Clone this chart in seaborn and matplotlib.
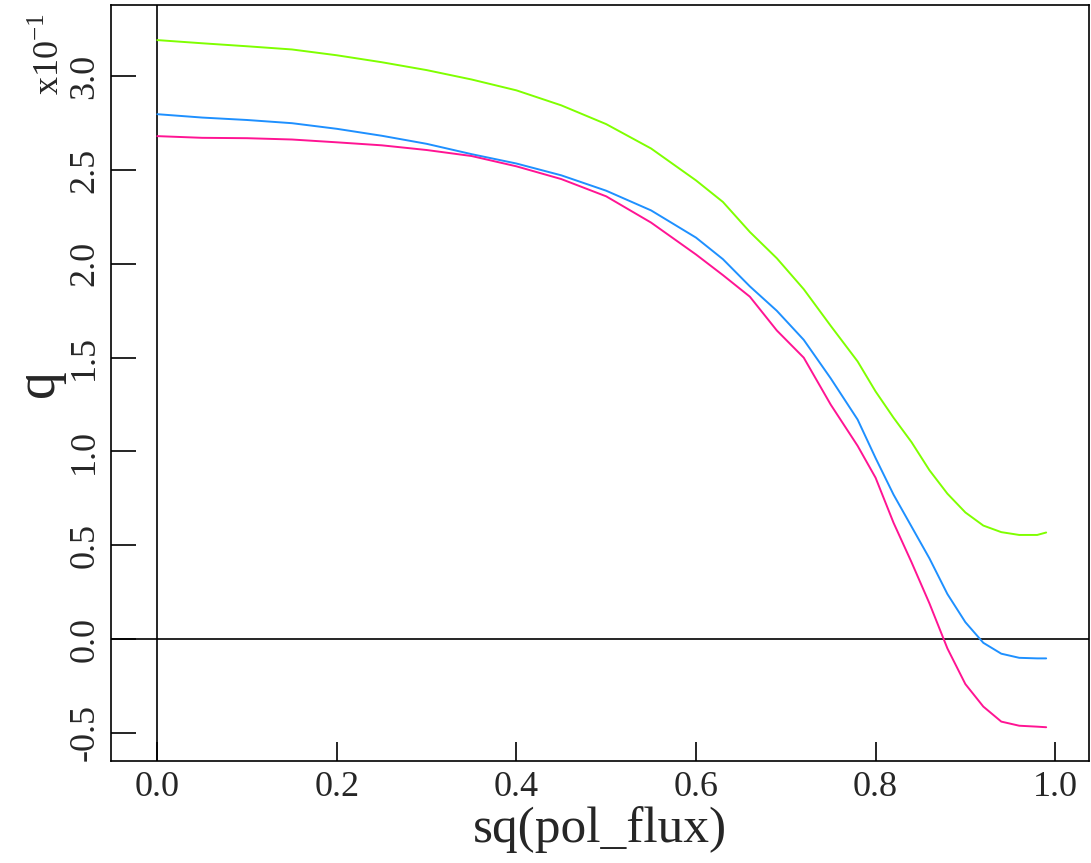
import numpy as np
import pandas as pd
import matplotlib
matplotlib.use("Agg")
import matplotlib.pyplot as plt
import seaborn as sns

x_vals = [0.00, 0.05, 0.10, 0.15, 0.20, 0.25, 0.30, 0.35, 0.40, 0.45, 0.50, 0.55,
          0.60, 0.63, 0.66, 0.69, 0.72, 0.75, 0.78, 0.80, 0.82, 0.84, 0.86, 0.88,
          0.90, 0.92, 0.94, 0.96, 0.98, 0.99]
q_green = [3.193, 3.176, 3.160, 3.143, 3.112, 3.075, 3.033, 2.983, 2.925, 2.845, 2.745, 2.615,
           2.445, 2.330, 2.170, 2.030, 1.865, 1.670, 1.480, 1.320, 1.180, 1.050, 0.900, 0.775,
           0.675, 0.605, 0.570, 0.555, 0.555, 0.568]
q_blue = [2.798, 2.780, 2.767, 2.750, 2.720, 2.683, 2.640, 2.585, 2.535, 2.472, 2.390, 2.285,
          2.140, 2.025, 1.880, 1.750, 1.595, 1.390, 1.170, 0.965, 0.770, 0.600, 0.430, 0.240,
          0.090, -0.020, -0.078, -0.100, -0.103, -0.103]
q_pink = [2.681, 2.672, 2.670, 2.663, 2.648, 2.632, 2.607, 2.575, 2.520, 2.452, 2.360, 2.220,
          2.050, 1.940, 1.825, 1.645, 1.500, 1.250, 1.030, 0.860, 0.620, 0.410, 0.190, -0.050,
          -0.240, -0.360, -0.440, -0.462, -0.467, -0.470]
series_names = ["green", "blue", "pink"]
series_colors = ["#7fff00", "#1e90ff", "#ff1493"]
x_ticks = [0.0, 0.2, 0.4, 0.6, 0.8, 1.0]
y_ticks = [-0.5, 0.0, 0.5, 1.0, 1.5, 2.0, 2.5, 3.0]

df = pd.DataFrame({
    "x": x_vals * 3,
    "q": q_green + q_blue + q_pink,
    "s": [n for n in series_names for _ in x_vals],
})

sns.set_style("ticks")
plt.rcParams["font.family"] = ["Liberation Serif", "DejaVu Serif"]
plt.rcParams["mathtext.fontset"] = "custom"
plt.rcParams["mathtext.rm"] = "Liberation Serif"

fig = plt.figure(figsize=(10.91, 8.63), dpi=100)
ax = fig.add_axes([0.1017, 0.1182, 0.8963, 0.876])

ax.axvline(0, color="black", lw=1.2, zorder=1)
ax.axhline(0, color="black", lw=1.2, zorder=1)

sns.lineplot(data=df, x="x", y="q", hue="s", palette=dict(zip(series_names, series_colors)),
             ax=ax, legend=False, lw=1.4, zorder=3)

ax.set_xlim(-0.0516, 1.0375)
ax.set_ylim(-0.65, 3.38)
ax.set_xticks(x_ticks)
ax.set_xticklabels([f"{t:.1f}" for t in x_ticks], fontsize=26)
ax.set_yticks(y_ticks)
ax.set_yticklabels([f"{t:.1f}" for t in y_ticks], fontsize=26, rotation=90, va="center")
ax.tick_params(direction="in", length=14, width=1.2, color="black", pad=7)
ax.tick_params(axis="y", length=18, pad=7)
for sp in ax.spines.values():
    sp.set_linewidth(1.2)
    sp.set_color("black")

ax.set_xlabel("sq(pol_flux)", fontsize=37, labelpad=2)
ax.set_ylabel("q", fontsize=40, labelpad=2)
fig.text(0.045, 0.985, r"x10$^{-1}$", rotation=90, fontsize=26, ha="center", va="top")

fig.savefig("out.png", dpi=100, facecolor="white")
